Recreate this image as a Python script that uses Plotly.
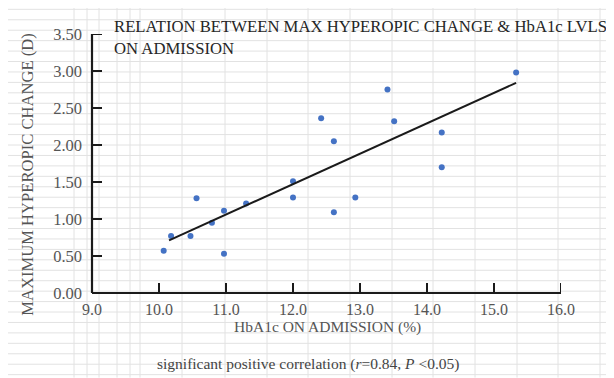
import plotly.graph_objects as go

# ---- data ----
hba1c = [10.07, 10.18, 10.47, 10.56, 10.79, 10.97, 10.97, 11.30, 12.00, 12.00,
         12.42, 12.61, 12.61, 12.93, 13.41, 13.51, 14.22, 14.22, 15.33]
hyperopic_change = [0.57, 0.77, 0.77, 1.28, 0.95, 1.11, 0.53, 1.21, 1.51, 1.29,
                    2.36, 2.05, 1.09, 1.29, 2.75, 2.32, 2.17, 1.70, 2.98]
trend_x = [10.15, 15.33]
trend_y = [0.71, 2.84]
x_ticks = [9, 10, 11, 12, 13, 14, 15, 16]
y_ticks = [0.0, 0.5, 1.0, 1.5, 2.0, 2.5, 3.0, 3.5]

OFF = 8  # page body margin offset
W, H = 614 - OFF, 378 - OFF
# plot area in screen pixels
SX0, SX1, SY0, SY1 = 92, 561, 34, 293.3
L = SX0 - OFF
T = SY0 - OFF
pw = SX1 - SX0
ph = SY1 - SY0
R = W - L - pw
B = H - T - ph


def sx(px):
    return (px - SX0) / pw


def sy(py):
    return (SY1 - py) / ph


FONT = "Liberation Serif"
AXC = "#1a1a1a"
TICKLEN = 10

fig = go.Figure()
fig.add_trace(go.Scatter(x=hba1c, y=hyperopic_change, mode="markers",
                         marker=dict(color="#4472C4", size=6),
                         showlegend=False, hoverinfo="x+y"))
fig.add_trace(go.Scatter(x=trend_x, y=trend_y, mode="lines",
                         line=dict(color=AXC, width=2),
                         showlegend=False, hoverinfo="skip"))

# spreadsheet-style background grid (decoration)
shapes = []
gy = 9.3
while gy < H + OFF:
    shapes.append(dict(type="line", xref="paper", yref="paper",
                       x0=sx(OFF), x1=sx(W + OFF), y0=sy(gy), y1=sy(gy),
                       line=dict(color="#e2e2e2", width=1), layer="below"))
    gy += 10.45
for gx in [74, 87, 99, 117, 130, 140, 182, 225, 267, 308, 350, 392, 433, 475,
           517, 558, 600]:
    shapes.append(dict(type="line", xref="paper", yref="paper",
                       x0=sx(gx), x1=sx(gx), y0=sy(OFF), y1=sy(H + OFF),
                       line=dict(color="#e2e2e2", width=1), layer="below"))

# axis lines and inward tick marks, placed from the tick values
shapes.append(dict(type="line", xref="paper", yref="y", x0=0, x1=0,
                   y0=y_ticks[0], y1=y_ticks[-1],
                   line=dict(color=AXC, width=2.2), layer="above"))
shapes.append(dict(type="line", xref="x", yref="paper", x0=x_ticks[0],
                   x1=x_ticks[-1], y0=0, y1=0,
                   line=dict(color=AXC, width=2.2), layer="above"))
for yv in y_ticks[1:]:
    shapes.append(dict(type="line", xref="paper", yref="y", x0=0,
                       x1=TICKLEN / pw, y0=yv, y1=yv,
                       line=dict(color=AXC, width=2), layer="above"))
for xv in x_ticks[1:]:
    shapes.append(dict(type="line", xref="x", yref="paper", x0=xv, x1=xv,
                       y0=0, y1=TICKLEN / ph,
                       line=dict(color=AXC, width=2), layer="above"))

annotations = [
    dict(text="RELATION BETWEEN MAX HYPEROPIC CHANGE &amp; HbA1c LVLS<br>ON ADMISSION",
         xref="paper", yref="paper", x=sx(112), y=sy(38),
         xanchor="left", yanchor="middle", align="left", showarrow=False,
         font=dict(family=FONT, size=16.7, color="#262626")),
    dict(text="HbA1c ON ADMISSION (%)", xref="paper", yref="paper",
         x=sx(327), y=sy(327), xanchor="center", yanchor="middle",
         showarrow=False, font=dict(family=FONT, size=15.5, color="#555555")),
    dict(text="MAXIMUM HYPEROPIC CHANGE (D)", xref="paper", yref="paper",
         x=sx(28), y=sy(175), xanchor="center", yanchor="middle",
         textangle=-90, showarrow=False,
         font=dict(family=FONT, size=16.6, color="#555555")),
    dict(text="significant positive correlation (<i>r</i>=0.84, <i>P</i> &lt;0.05)",
         xref="paper", yref="paper", x=sx(308), y=sy(364),
         xanchor="center", yanchor="middle", showarrow=False,
         font=dict(family=FONT, size=15.5, color="#444444")),
]

fig.update_layout(
    width=W, height=H,
    margin=dict(l=L, r=R, t=T, b=B, pad=0),
    paper_bgcolor="white", plot_bgcolor="rgba(0,0,0,0)",
    shapes=shapes, annotations=annotations,
    font=dict(family=FONT, color="#555555"),
    xaxis=dict(range=[9, 16], tickvals=x_ticks, tickformat=".1f",
               showgrid=False, zeroline=False, showline=False, ticks="",
               ticklabelstandoff=5,
               tickfont=dict(family=FONT, size=16, color="#555555")),
    yaxis=dict(range=[0, 3.5], tickvals=y_ticks, tickformat=".2f",
               showgrid=False, zeroline=False, showline=False, ticks="",
               ticklabelstandoff=9,
               tickfont=dict(family=FONT, size=16.5, color="#555555")),
)

fig.write_html("out.html")
